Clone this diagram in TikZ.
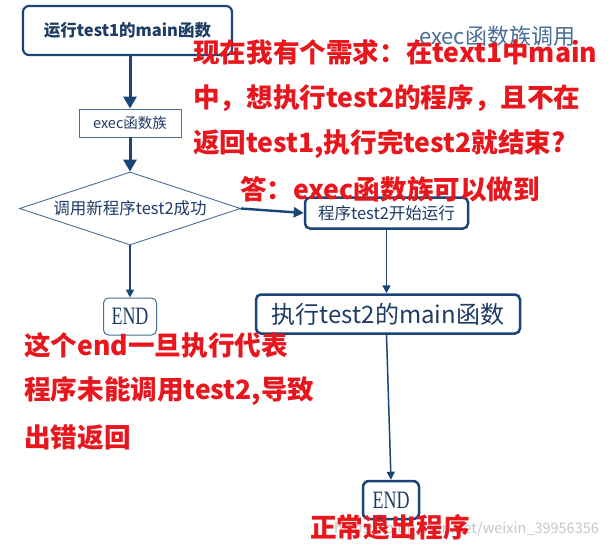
\documentclass[tikz,border=0pt]{standalone}
\usepackage{fontspec}
\setmainfont{Noto Sans CJK SC}
\newfontfamily\endfont{Liberation Serif}
\usetikzlibrary{arrows.meta,shapes.geometric}
\definecolor{dblue}{HTML}{1A4577}
\definecolor{lblue}{HTML}{4A6E96}
\definecolor{tblue}{HTML}{1E3C64}
\definecolor{redt}{HTML}{E8161D}
\tikzset{
  boxthick/.style={draw=dblue, line width=2.2pt, rounded corners=6pt, inner sep=0pt, text=tblue},
  boxthin/.style={draw=lblue, line width=0.9pt, inner sep=0pt, text=tblue},
  bigarrow/.style={draw=dblue, line width=3pt, -{Triangle[length=12pt,width=13pt]}},
  smallarrow/.style={draw=dblue, line width=1.5pt, -{Triangle[length=8pt,width=8pt]}},
  redtext/.style={text=redt, anchor=west, inner sep=0pt, font=\fontsize{26.6}{26.6}\selectfont\bfseries},
}
\begin{document}
\begin{tikzpicture}[x=1pt,y=-1pt]
\useasboundingbox[fill=white] (0,0) rectangle (609,550);
% boxes
\node[boxthick, minimum width=209pt, minimum height=49pt, font=\fontsize{16.5}{16.5}\selectfont\bfseries] (top) at (127.5,30.5) {运行test1的main函数};
\node[boxthin, minimum width=102pt, minimum height=28pt, font=\fontsize{14.5}{14.5}\selectfont] (exec) at (130,123) {exec函数族};
\node[diamond, draw=lblue, line width=0.9pt, minimum width=221pt, minimum height=73pt, inner sep=0pt] (dia) at (130,208.5) {};
\node[inner sep=0pt, text=tblue, font=\fontsize{16.5}{16.5}\selectfont] (dialabel) at (dia.center) {调用新程序test2成功};
\node[boxthick, line width=2.5pt, rounded corners=5pt, minimum width=163pt, minimum height=31pt, font=\fontsize{16.5}{16.5}\selectfont] (prog) at (386.5,213) {程序test2开始运行};
\node[boxthick, line width=2.5pt, rounded corners=5pt, minimum width=264pt, minimum height=39pt, font=\fontsize{24}{24}\selectfont] (main2) at (388,314) {执行test2的main函数};
\node[draw=lblue, line width=1pt, rounded corners=5pt, minimum width=53pt, minimum height=37pt, inner sep=0pt, text=tblue, font=\fontsize{25}{25}\endfont] (end1) at (130,316.5) {\scalebox{0.72}[1]{END}};
\node[boxthick, line width=2.5pt, rounded corners=6pt, minimum width=56pt, minimum height=38pt, font=\fontsize{25}{25}\endfont] (end2) at (391,500) {\scalebox{0.72}[1]{END}};
% connectors
\draw[bigarrow] (exec.north |- top.south) -- (exec.north);
\draw[bigarrow] (exec.south) -- (dia.north);
\draw[bigarrow, line width=2.4pt, -{Triangle[length=10pt,width=10pt]}] (dia.east) -- (prog.west);
\draw[smallarrow] (dia.south) -- (end1.north);
\draw[smallarrow] (prog.south) -- (prog.south |- main2.north);
\draw[smallarrow] (prog.south |- main2.south) -- (end2.north);
% title
\node[text=lblue, font=\fontsize{22}{22}\selectfont, inner sep=0pt] (title) at (497,36) {exec函数族调用};
% watermark
\node[text=black!22, anchor=west, inner sep=0pt, font=\fontsize{14.5}{14.5}\selectfont] (wm) at (334,530) {https://blog.csdn.net/weixin\_39956356};
% red annotations
\node[redtext] (r1) at (193,52) {现在我有个需求：在text1中main};
\node[redtext] (r2) at (193,98) {中，想执行test2的程序，且不在};
\node[redtext] (r3) at (193,144) {返回test1,执行完test2就结束?};
\node[redtext] (r4) at (240,189) {答：exec函数族可以做到};
\node[redtext] (r5) at (24,345) {这个end一旦执行代表};
\node[redtext] (r6) at (24,391) {程序未能调用test2,导致};
\node[redtext] (r7) at (24,437) {出错返回};
\node[redtext] (r8) at (310,527) {正常退出程序};
\end{tikzpicture}
\end{document}
